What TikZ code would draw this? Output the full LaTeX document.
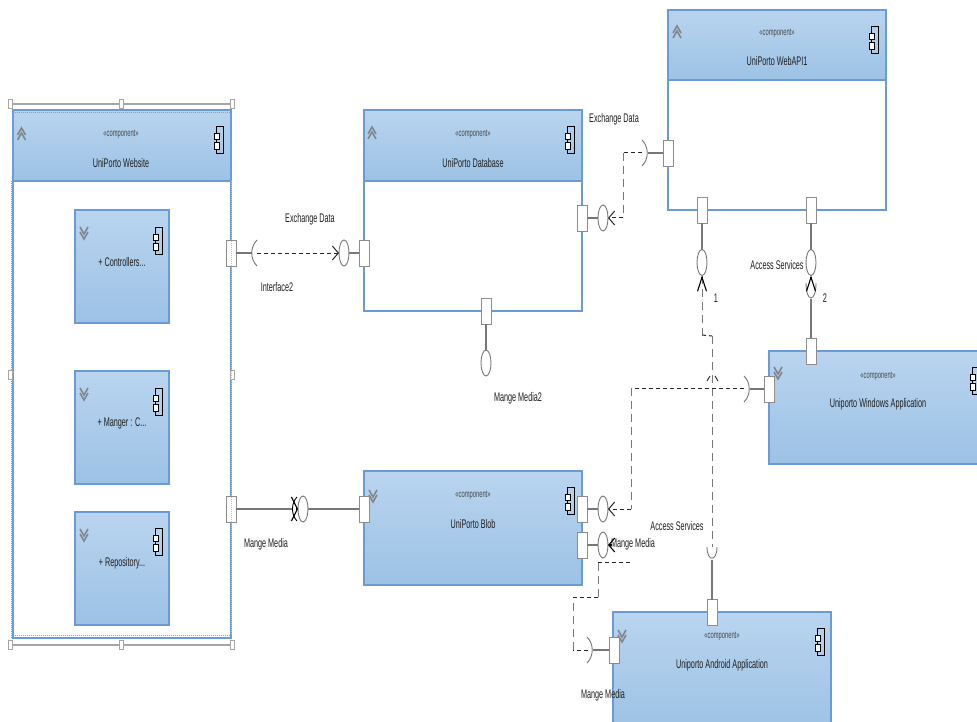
\documentclass[tikz,border=0pt]{standalone}
\usepackage{fontspec}
\usetikzlibrary{arrows.meta,shapes.geometric}
\newfontfamily\lab[FakeStretch=0.58]{Liberation Sans}
\definecolor{edgeblue}{HTML}{6A9BD6}
\definecolor{topblue}{HTML}{B9D4EF}
\definecolor{botblue}{HTML}{9CC2E5}
\definecolor{stem}{HTML}{777777}
\definecolor{portedge}{HTML}{8C8C8C}
\definecolor{chev}{HTML}{80858E}
\tikzset{
  x=1pt,y=-1pt,
  txt/.style={inner sep=0pt,outer sep=0pt,font=\lab\fontsize{12.5}{14}\selectfont,text=black!88},
  stereo/.style={inner sep=0pt,outer sep=0pt,font=\lab\fontsize{10}{12}\selectfont,text=black!72},
  bodybox/.style={draw=edgeblue,line width=1.2pt,fill=white,inner sep=0pt,outer sep=0pt,anchor=north west},
  headbox/.style={draw=edgeblue,line width=1.2pt,top color=topblue,bottom color=botblue,inner sep=0pt,outer sep=0pt,anchor=north west},
  portbox/.style={draw=portedge,line width=.9pt,fill=white,minimum width=10pt,minimum height=26pt,inner sep=0pt,outer sep=0pt},
  ball/.style={ellipse,draw=stem,line width=.9pt,fill=white,minimum width=10pt,minimum height=26pt,inner sep=0pt,outer sep=0pt},
  stemline/.style={draw=stem,line width=1.1pt},
  sock/.style={draw=stem,line width=.9pt},
  dashh/.style={draw=black!85,line width=1pt,dash pattern=on 4pt off 3pt},
  dashv/.style={draw=stem,line width=1pt,dash pattern=on 8pt off 5pt},
  tiph/.style={-{Straight Barb[length=6pt,width=14pt]}},
  tipv/.style={{Straight Barb[length=14pt,width=9pt]}-},
  barb/.style={draw=black,line width=1.1pt},
  handle/.style={draw=gray!70,fill=white,line width=.6pt,minimum width=4pt,minimum height=9pt,inner sep=0pt,outer sep=0pt},
  selbar/.style={draw=gray!70,line width=1.4pt},
  seldot/.style={draw=gray!80,line width=1pt,dash pattern=on 1pt off 1pt},
}
\newcommand{\compicon}[2]{%
  \draw[black,line width=.7pt] (#1+2,#2) rectangle (#1+9,#2+27);
  \draw[black,line width=.6pt,fill=white] (#1,#2+7) rectangle (#1+5,#2+13);
  \draw[black,line width=.6pt,fill=white] (#1,#2+16) rectangle (#1+5,#2+23);
}
\newcommand{\chevup}[2]{%
  \draw[chev,line width=1.6pt] (#1-4,#2+1) -- (#1,#2-6) -- (#1+4,#2+1);
  \draw[chev,line width=1.6pt] (#1-4,#2+6) -- (#1,#2-1) -- (#1+4,#2+6);
}
\newcommand{\chevdown}[2]{%
  \draw[chev,line width=1.6pt] (#1-4,#2-6) -- (#1,#2+1) -- (#1+4,#2-6);
  \draw[chev,line width=1.6pt] (#1-4,#2-1) -- (#1,#2+6) -- (#1+4,#2-1);
}
\begin{document}
\begin{tikzpicture}
\clip (0,0) rectangle (977,722);
\fill[white] (0,0) rectangle (977,722);

% Website
\node[bodybox,minimum width=218pt,minimum height=528pt] (web) at (13,110) {};
\node[headbox,minimum width=218pt,minimum height=71pt] (webh) at (13,110) {};
\draw[seldot] (13,113) -- (231,113);
\draw[seldot] (13,113) -- (13,635) -- (231,635);
\draw[seldot] (11.5,181) -- (11.5,638);
\node[stereo] (webs) at (121,134) {«component»};
\node[txt] (webt) at (121,163) {UniPorto Website};
\compicon{214}{126}
\chevup{21.5}{134}
% selection bars
\coordinate (sa) at (10,104); \coordinate (sb) at (232,104);
\coordinate (sc) at (10,645); \coordinate (sd) at (232,645);
\draw[selbar] (sa) -- (sb);
\draw[selbar] (sc) -- (sd);
\node[handle] (h1) at (10,104) {}; \node[handle] (h2) at (121,104) {}; \node[handle] (h3) at (232,104) {};
\node[handle] (h4) at (10,375) {}; \node[handle] (h5) at (232,375) {};
\node[handle] (h6) at (10,645) {}; \node[handle] (h7) at (121,645) {}; \node[handle] (h8) at (232,645) {};

% Children
\node[headbox,minimum width=94pt,minimum height=113pt] (c1) at (75,210) {};
\node[txt] (c1t) at (122,262) {+ Controllers...};
\compicon{153}{227}
\chevdown{84}{233}
\node[headbox,minimum width=94pt,minimum height=113pt] (c2) at (75,371) {};
\node[txt] (c2t) at (122,423) {+ Manger : C...};
\compicon{153}{388}
\chevdown{84}{394}
\node[headbox,minimum width=94pt,minimum height=113pt] (c3) at (75,512) {};
\node[txt] (c3t) at (122,563) {+ Repository...};
\compicon{153}{528}
\chevdown{84}{535}

% Database
\node[bodybox,minimum width=218pt,minimum height=201pt] (db) at (364,110) {};
\node[headbox,minimum width=218pt,minimum height=71pt] (dbh) at (364,110) {};
\node[stereo] (dbs) at (473,134) {«component»};
\node[txt] (dbt) at (473,163) {UniPorto Database};
\compicon{565}{126}
\chevup{372}{133}

% WebAPI
\node[bodybox,minimum width=218pt,minimum height=200pt] (api) at (668,10) {};
\node[headbox,minimum width=218pt,minimum height=70pt] (apih) at (668,10) {};
\node[stereo] (apis) at (777,33) {«component»};
\node[txt] (apit) at (777,61) {UniPorto WebAPI1};
\compicon{869}{26}
\chevup{677}{32}

% Windows
\node[headbox,minimum width=218pt,minimum height=113pt] (win) at (769,351) {};
\node[stereo] (wins) at (878,376) {«component»};
\node[txt] (wint) at (878,404) {Uniporto Windows Application};
\compicon{970}{367}
\chevdown{778}{373}

% Blob
\node[headbox,minimum width=218pt,minimum height=114pt] (blob) at (364,471) {};
\node[stereo] (blobs) at (473,495) {«component»};
\node[txt] (blobt) at (473,524) {UniPorto Blob};
\compicon{565}{487}
\chevdown{373}{496}

% Android
\node[headbox,minimum width=218pt,minimum height=120pt] (and) at (613,612) {};
\node[stereo] (ands) at (722,636) {«component»};
\node[txt] (andt) at (722,665) {Uniporto Android Application};
\compicon{815}{628}
\chevdown{622}{636}

% Ports
\node[portbox] (pw1) at (231,253) {};
\node[portbox] (pw2) at (231,509) {};
\node[portbox] (pd1) at (364,253) {};
\node[portbox] (pd2) at (582,218) {};
\node[portbox] (pd3) at (486,311) {};
\node[portbox] (pa1) at (668,153) {};
\node[portbox] (pa2) at (702,210.5) {};
\node[portbox] (pa3) at (811,210.5) {};
\node[portbox] (pw3) at (811,351) {};
\node[portbox] (pw4) at (769,389) {};
\node[portbox] (pb1) at (364,509) {};
\node[portbox] (pb2) at (582,509) {};
\node[portbox] (pb3) at (582,545) {};
\node[portbox] (pn1) at (712,612.5) {};
\node[portbox] (pn2) at (614,650) {};
\draw[seldot,draw=edgeblue!60] (231,181) -- (231,635);

% Balls
\node[ball] (b1) at (344,253) {};
\node[ball] (b2) at (603,218) {};
\node[ball] (b3) at (486,363) {};
\node[ball] (b4) at (702,262.5) {};
\node[ball] (b5) at (811,262.5) {};
\node[ball] (b6) at (603,509) {};
\node[ball] (b7) at (603,545) {};
\node[ball] (b8) at (303,509) {};

% Socket points
\coordinate (s1) at (252,253);
\coordinate (s2) at (648,153);
\coordinate (s3) at (750,389);
\coordinate (s4) at (593,650);
\coordinate (s5) at (712,560);
\coordinate (s6) at (811,299);
\coordinate (s7) at (292,509);
\coordinate (s8) at (296,509);
% Route points
\coordinate (r1) at (257,253);
\coordinate (r2) at (642,153);
\coordinate (r3) at (623,153);
\coordinate (r4) at (623,218);
\coordinate (r5) at (702,335);
\coordinate (r6) at (712,336);
\coordinate (r7) at (712,547);
\coordinate (r8) at (744,388);
\coordinate (r9) at (631,388);
\coordinate (r10) at (631,509);
\coordinate (r13) at (588,650);
\coordinate (r14) at (573,650);
\coordinate (r15) at (573,597);
\coordinate (r16) at (598,597);
\coordinate (r17) at (598,562);
\coordinate (r18) at (631,562);
\coordinate (r19) at (612,545);

% Stems
\draw[stemline] (pw1.east) -- (s1);
\draw[stemline] (b1.east) -- (pd1.west);
\draw[stemline] (pd2.east) -- (b2.west);
\draw[stemline] (pa1.west) -- (s2);
\draw[stemline] (pd3.south) -- (b3.north);
\draw[stemline] (pa2.south) -- (b4.north);
\draw[stemline] (pa3.south) -- (b5.north);
\draw[stemline] (pw3.north) -- (s6);
\draw[stemline] (pw4.west) -- (s3);
\draw[stemline] (pb2.east) -- (b6.west);
\draw[stemline] (pb3.east) -- (b7.west);
\draw[stemline] (pn1.north) -- (s5);
\draw[stemline] (pn2.west) -- (s4);
\draw[stemline] (pw2.east) -- (s7);
\draw[stemline] (b8.east) -- (pb1.west);

% Sockets
\draw[sock] (257,240) .. controls (250,247) and (250,259) .. (257,266);
\draw[sock] (642,140) .. controls (649,147) and (649,159) .. (642,166);
\draw[sock] (744,376) .. controls (751,383) and (751,395) .. (744,402);
\draw[sock] (587,637) .. controls (594,644) and (594,656) .. (587,663);
\draw[sock] (707,547) .. controls (707,562) and (717,562) .. (717,547);
\draw[sock] (806,283) .. controls (806,303) and (816,303) .. (816,283);
\draw[sock,draw=black] (297,497) .. controls (291,503) and (291,515) .. (297,521);

% Dashed connectors
\draw[dashh,tiph] (r1) -- (b1.west);
\draw[dashh] (r2) -- (r3);
\draw[dashv] (r3) -- (r4);
\draw[dashh,tiph] (r4) -- (b2.east);
\draw[dashv] (b4.south) -- (r5);
\draw[dashh] (r5) -- (r6);
\draw[dashv] (r6) -- (r7);
\draw[dashh] (r8) -- (r9);
\draw[black!85,line width=.9pt] (707,381) -- (710,376);
\draw[black!85,line width=.9pt] (718,381) -- (715,376);
\draw[dashv] (r9) -- (r10);
\draw[dashh,tiph] (r10) -- (b6.east);
\draw[dashh] (r13) -- (r14);
\draw[dashv] (r14) -- (r15);
\draw[dashh] (r15) -- (r16);
\draw[dashv] (r16) -- (r17);
\draw[dashh] (r17) -- (r18);
\draw[barb,tiph] (r19) -- (b7.east);
% Solid arrows
\draw[barb,tipv] (b4.south) -- ++(0,1);
\draw[barb,tipv] (b5.south) -- ++(0,1);
\draw[barb,-{Straight Barb[length=6pt,width=24pt]}] (s8) -- (b8.west);

% Labels
\node[txt] (l1) at (310,219) {Exchange Data};
\node[txt] (l2) at (277,287) {Interface2};
\node[txt] (l3) at (614,119) {Exchange Data};
\node[txt] (l4) at (777,265) {Access Services};
\node[txt] (l5) at (716,298) {1};
\node[txt] (l6) at (825,298) {2};
\node[txt] (l7) at (518,398) {Mange Media2};
\node[txt] (l8) at (266,544) {Mange Media};
\node[txt] (l9) at (633,544) {Mange Media};
\node[txt] (l10) at (677,526) {Access Services};
\node[txt] (l11) at (603,695) {Mange Media};
\end{tikzpicture}
\end{document}
